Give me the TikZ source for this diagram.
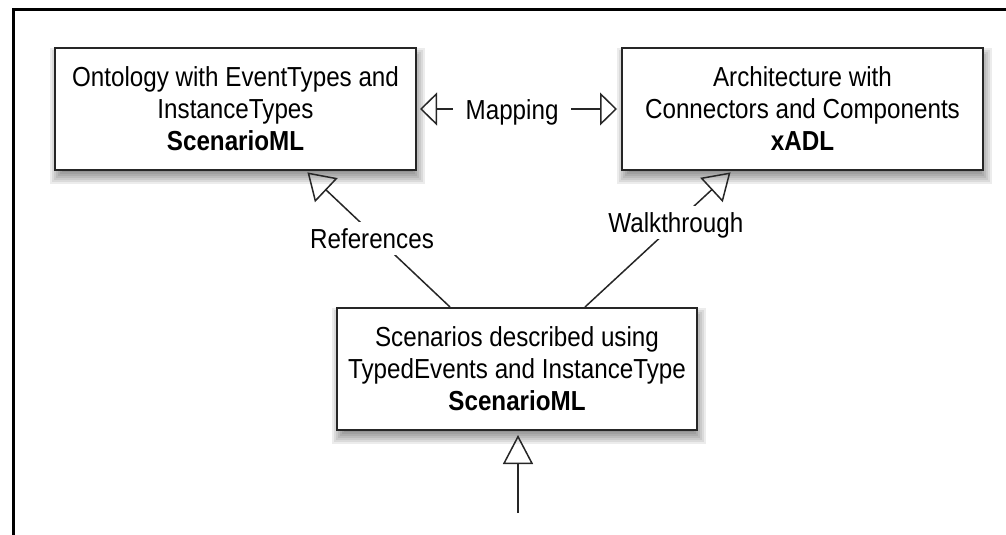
\documentclass[tikz,border=0pt]{standalone}
\usepackage{fontspec}
\setmainfont{Liberation Sans}[FakeStretch=0.88]
\usetikzlibrary{arrows.meta,backgrounds}
\begin{document}
\begin{tikzpicture}[x=1pt,y=-1pt,
  box/.style={draw=black!85, line width=2pt, fill=white, minimum width=361pt,
    minimum height=122pt, inner sep=0pt, align=center,
    font=\fontsize{27.5}{32}\selectfont},
  lbl/.style={fill=white, inner xsep=2pt, inner ysep=6.5pt, text height=20pt,
    text depth=0pt, font=\fontsize{27.5}{32}\selectfont},
  conn/.style={line width=1.5pt, draw=black!85},
  diaghead/.style={-{Triangle[open, length=26pt, width=33pt]}},
  vhead/.style={-{Triangle[open, length=29pt, width=30pt]}},
  maphead/.style={{Triangle[open, length=17pt, width=33pt]}-{Triangle[open, length=17pt, width=33pt]}}
]
\useasboundingbox (0,0) rectangle (1006,535);
% outer frame (left and top edges visible)
\draw[line width=3pt] (13.5,535) -- (13.5,9.5) -- (1006,9.5);

% boxes
\node[box] (o) at (235.5,109) {Ontology with EventTypes and\\InstanceTypes\\\textbf{ScenarioML}};
\node[box] (a) at (802.5,109) {Architecture with\\Connectors and Components\\\textbf{xADL}};
\node[box, minimum width=360pt] (s) at (517,369) {Scenarios described using\\TypedEvents and InstanceType\\\textbf{ScenarioML}};

% shadows
\begin{scope}[on background layer]
\foreach \nm in {o,a,s}{
  \foreach \e in {-6,-4,...,6}{
    \fill[black,opacity=0.075] ([shift={(2-\e,7+\e)}]\nm.south west) rectangle ([shift={(2+\e,7-\e)}]\nm.north east);
  }}
\end{scope}

% connectors
\draw[conn, maphead, shorten <=3pt, shorten >=4pt] (o.east) --
  node[lbl, pos=0.466, inner xsep=13pt] (map) {Mapping} (a.west);
\draw[conn, diaghead, shorten >=2pt] ([xshift=-67pt]s.north) --
  node[lbl, pos=0.507, xshift=-5pt] (ref) {References} ([xshift=70.5pt]o.south);
\draw[conn, diaghead, shorten >=2pt] ([xshift=68pt]s.north) --
  node[lbl, pos=0.618] (walk) {Walkthrough} ([xshift=-70.5pt]a.south);
\coordinate (src) at (518,513);
\draw[conn, vhead, shorten >=4pt] (src) -- (src |- s.south);
\end{tikzpicture}
\end{document}
